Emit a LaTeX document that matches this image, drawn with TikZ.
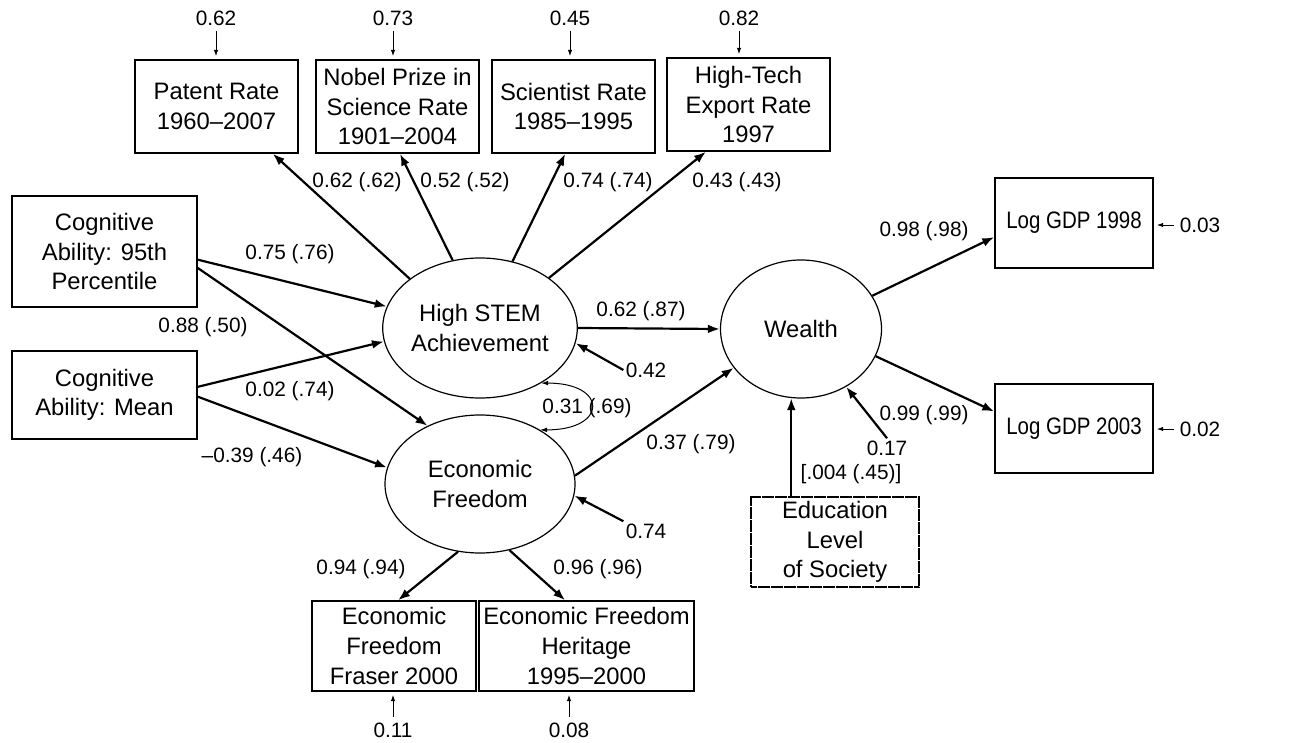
\documentclass[tikz,border=0pt]{standalone}
\usepackage{fontspec}
\setmainfont{Liberation Sans}
\usetikzlibrary{shapes.geometric,arrows.meta}

\begin{document}
\begin{tikzpicture}
[x=0.5pt,y=-0.5pt,
 lineDecorate/.style={-{Latex[length=6pt,width=4.4pt]},line width=1.1pt},
 errDecorate/.style={-{Latex[length=3.2pt,width=2.2pt]},line width=0.5pt,shorten <=1.5pt,shorten >=1.5pt},
 covDecorate/.style={{Latex[length=3.5pt,width=2.4pt]}-{Latex[length=3.5pt,width=2.4pt]},line width=0.5pt},
 boxDecorate/.style={shape=rectangle,draw,line width=0.7pt,align=center,inner sep=1pt,font=\fontsize{11.9}{14.8}\selectfont},
 ellipseDecorate/.style={shape=ellipse,draw,line width=0.6pt,align=center,inner sep=0pt,font=\fontsize{11.9}{14.6}\selectfont},
 labelDecorate/.style={inner sep=1pt,font=\fontsize{10.4}{12}\selectfont}]

\useasboundingbox (0,0) rectangle (1315,743);

% observed variables
\node (patent) at (216.5,106.5) [boxDecorate, minimum width=81.5pt, minimum height=46.5pt] {Patent Rate\\1960--2007};
\node (nobel) at (397.5,106.5) [boxDecorate, minimum width=81.5pt, minimum height=46.5pt] {Nobel Prize in\\Science Rate\\1901--2004};
\node (scientist) at (573.5,106.5) [boxDecorate, minimum width=81.5pt, minimum height=46.5pt] {Scientist Rate\\1985--1995};
\node (hightech) at (748.5,104.5) [boxDecorate, minimum width=81.5pt, minimum height=46.5pt] {High-Tech\\Export Rate\\1997};
\node (cogHigh) at (104.5,251.5) [boxDecorate, minimum width=92.5pt, minimum height=55.5pt] {Cognitive\\Ability: 95th\\Percentile};
\node (cogMean) at (104.5,395) [boxDecorate, minimum width=92.5pt, minimum height=44pt] {Cognitive\\Ability: Mean};
\node (logA) at (1074,223) [boxDecorate, minimum width=79pt, minimum height=45pt] {\scalebox{0.86}[1]{Log GDP 1998}};
\node (logB) at (1074,428.5) [boxDecorate, minimum width=79pt, minimum height=44.5pt] {\scalebox{0.86}[1]{Log GDP 2003}};
\node (fraser) at (394,646) [boxDecorate, minimum width=82pt, minimum height=45pt] {Economic\\Freedom\\Fraser 2000};
\node (heritage) at (586.5,646) [boxDecorate, minimum width=107.5pt, minimum height=45pt] {Economic Freedom\\Heritage\\1995--2000};
\node (edu) at (835,542) [boxDecorate, line width=0.6pt, dash pattern=on 3pt off 0.25pt, minimum width=84pt, minimum height=45pt] {Education\\Level\\of Society};

% latent variables
\node (stem) at (480,328) [ellipseDecorate, minimum width=95pt, minimum height=70pt] {High STEM\\Achievement};
\node (ef) at (480,484) [ellipseDecorate, minimum width=95pt, minimum height=69pt] {Economic\\Freedom};
\node (wealth) at (801,329) [ellipseDecorate, minimum width=80.5pt, minimum height=69pt] {Wealth};

% coefficients
\foreach \nodename/\x/\y/\txt in {
l1/357/182/{0.62 (.62)}, l2/465/182/{0.52 (.52)}, l3/608/182/{0.74 (.74)}, l4/737/182/{0.43 (.43)},
l5/290/254/{0.75 (.76)}, l6/203/327/{0.88 (.50)}, l7/290/391/{0.02 (.74)}, l8/252/457/{--0.39 (.46)},
l9/641/311/{0.62 (.87)}, l10/587/408/{0.31 (.69)}, l11/691/444/{0.37 (.79)},
l12/361/569/{0.94 (.94)}, l13/598/569/{0.96 (.96)},
l14/924/231/{0.98 (.98)}, l15/924/415/{0.99 (.99)}, l16/851/474/{[.004 (.45)]},
r42/646/370/0.42, r74/646/531/0.74, r17/887/448/0.17,
e62/216/18/0.62, e73/393/18/0.73, e45/570/18/0.45, e82/739/18/0.82,
e11/393/730/0.11, e08/569/730/0.08, e03/1200/225/0.03, e02/1200/429/0.02
}
{
  \node (\nodename) at (\x,\y) [labelDecorate] {\txt};
}

\path
\foreach \startnode/\endnode in {
stem.145/patent.-40, stem.112/nobel.-87, stem.64/scientist.-100, stem.36/hightech.-132,
cogHigh.-5/stem.167, cogHigh.-10/ef.132, cogMean.5/stem.-172, cogMean.-1/ef.170,
stem.east/wealth.west, ef.5/wealth.210,
ef.-108/fraser.85, ef.-66/heritage.115,
wealth.25/logA.190, wealth.-20/logB.168,
r42.west/stem.-9, r74.north west/ef.-7, r17.north/wealth.-52}
{
  (\startnode) edge[lineDecorate] (\endnode)
}
(wealth.-98 |- edu.north) edge[lineDecorate] (wealth.-98);

% error terms
\foreach \nodename/\target in {e62/patent, e73/nobel, e45/scientist, e82/hightech}
  \draw[errDecorate] (\nodename.south) -- (\nodename.south |- \target.north);
\foreach \nodename/\target in {e11/fraser, e08/heritage}
  \draw[errDecorate] (\nodename.north) -- (\nodename.north |- \target.south);
\foreach \nodename/\target in {e03/logA, e02/logB}
  \draw[errDecorate] (\nodename.west) -- (\nodename.west -| \target.east);

\draw[covDecorate] (stem.-42) .. controls (608,383) and (608,430) .. (ef.42);
\end{tikzpicture}
\end{document}
